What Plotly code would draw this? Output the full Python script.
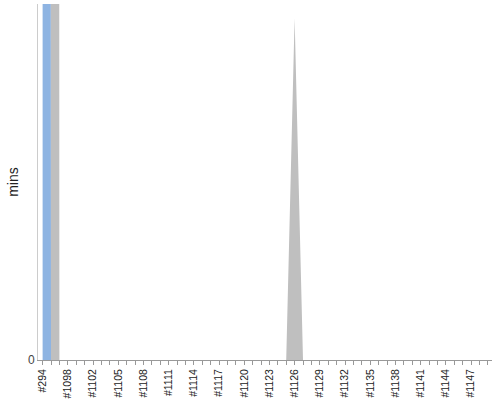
import plotly.graph_objects as go

# build numbers along the x axis (every category gets a tick, every 3rd a label)
builds = ["#294", "#1096", "#1097", "#1098", "#1099", "#1100"] + ["#%d" % n for n in range(1102, 1150)]

# minutes per build, two stacked series (first build is far off the scale)
blue_mins = [5000] + [0] * (len(builds) - 1)
grey_mins = [0, 5000] + [0] * (len(builds) - 2)
grey_mins[builds.index("#1126")] = 96

y_max = 100

tick_text = [b if i % 3 == 0 else "" for i, b in enumerate(builds)]

fig = go.Figure()
fig.add_trace(go.Scatter(x=builds, y=blue_mins, stackgroup="one", mode="none",
                         fillcolor="#8eb4e2", name="a"))
fig.add_trace(go.Scatter(x=builds, y=grey_mins, stackgroup="one", mode="none",
                         fillcolor="#bfbfbf", name="b"))

fig.update_layout(
    width=500, height=400,
    margin=dict(l=38, r=8, t=4, b=40, autoexpand=False),
    plot_bgcolor="white", paper_bgcolor="white",
    showlegend=False,
    font=dict(family="Arial, Liberation Sans", size=11, color="#222"),
)
fig.update_xaxes(
    type="category", range=[-0.55, 53.5], automargin=False,
    tickmode="array", tickvals=builds, ticktext=tick_text,
    tickangle=-90, ticks="outside", ticklen=4, tickcolor="#999",
    showline=True, linecolor="#999", showgrid=False,
    tickfont=dict(size=10.5, color="#222"),
)
fig.update_yaxes(
    range=[0, y_max], tickvals=[0], ticktext=["0"], automargin=False,
    showline=True, linecolor="#ccc", showgrid=False, zeroline=False,
    tickfont=dict(size=12, color="#444"),
    title=dict(text="mins", font=dict(size=14, color="#222"), standoff=6),
)

# page has a default 8px body margin, drop it so the figure sits at the corner
fig.write_html("out.html", config={"displayModeBar": False},
               post_script="document.body.style.margin='0';")
